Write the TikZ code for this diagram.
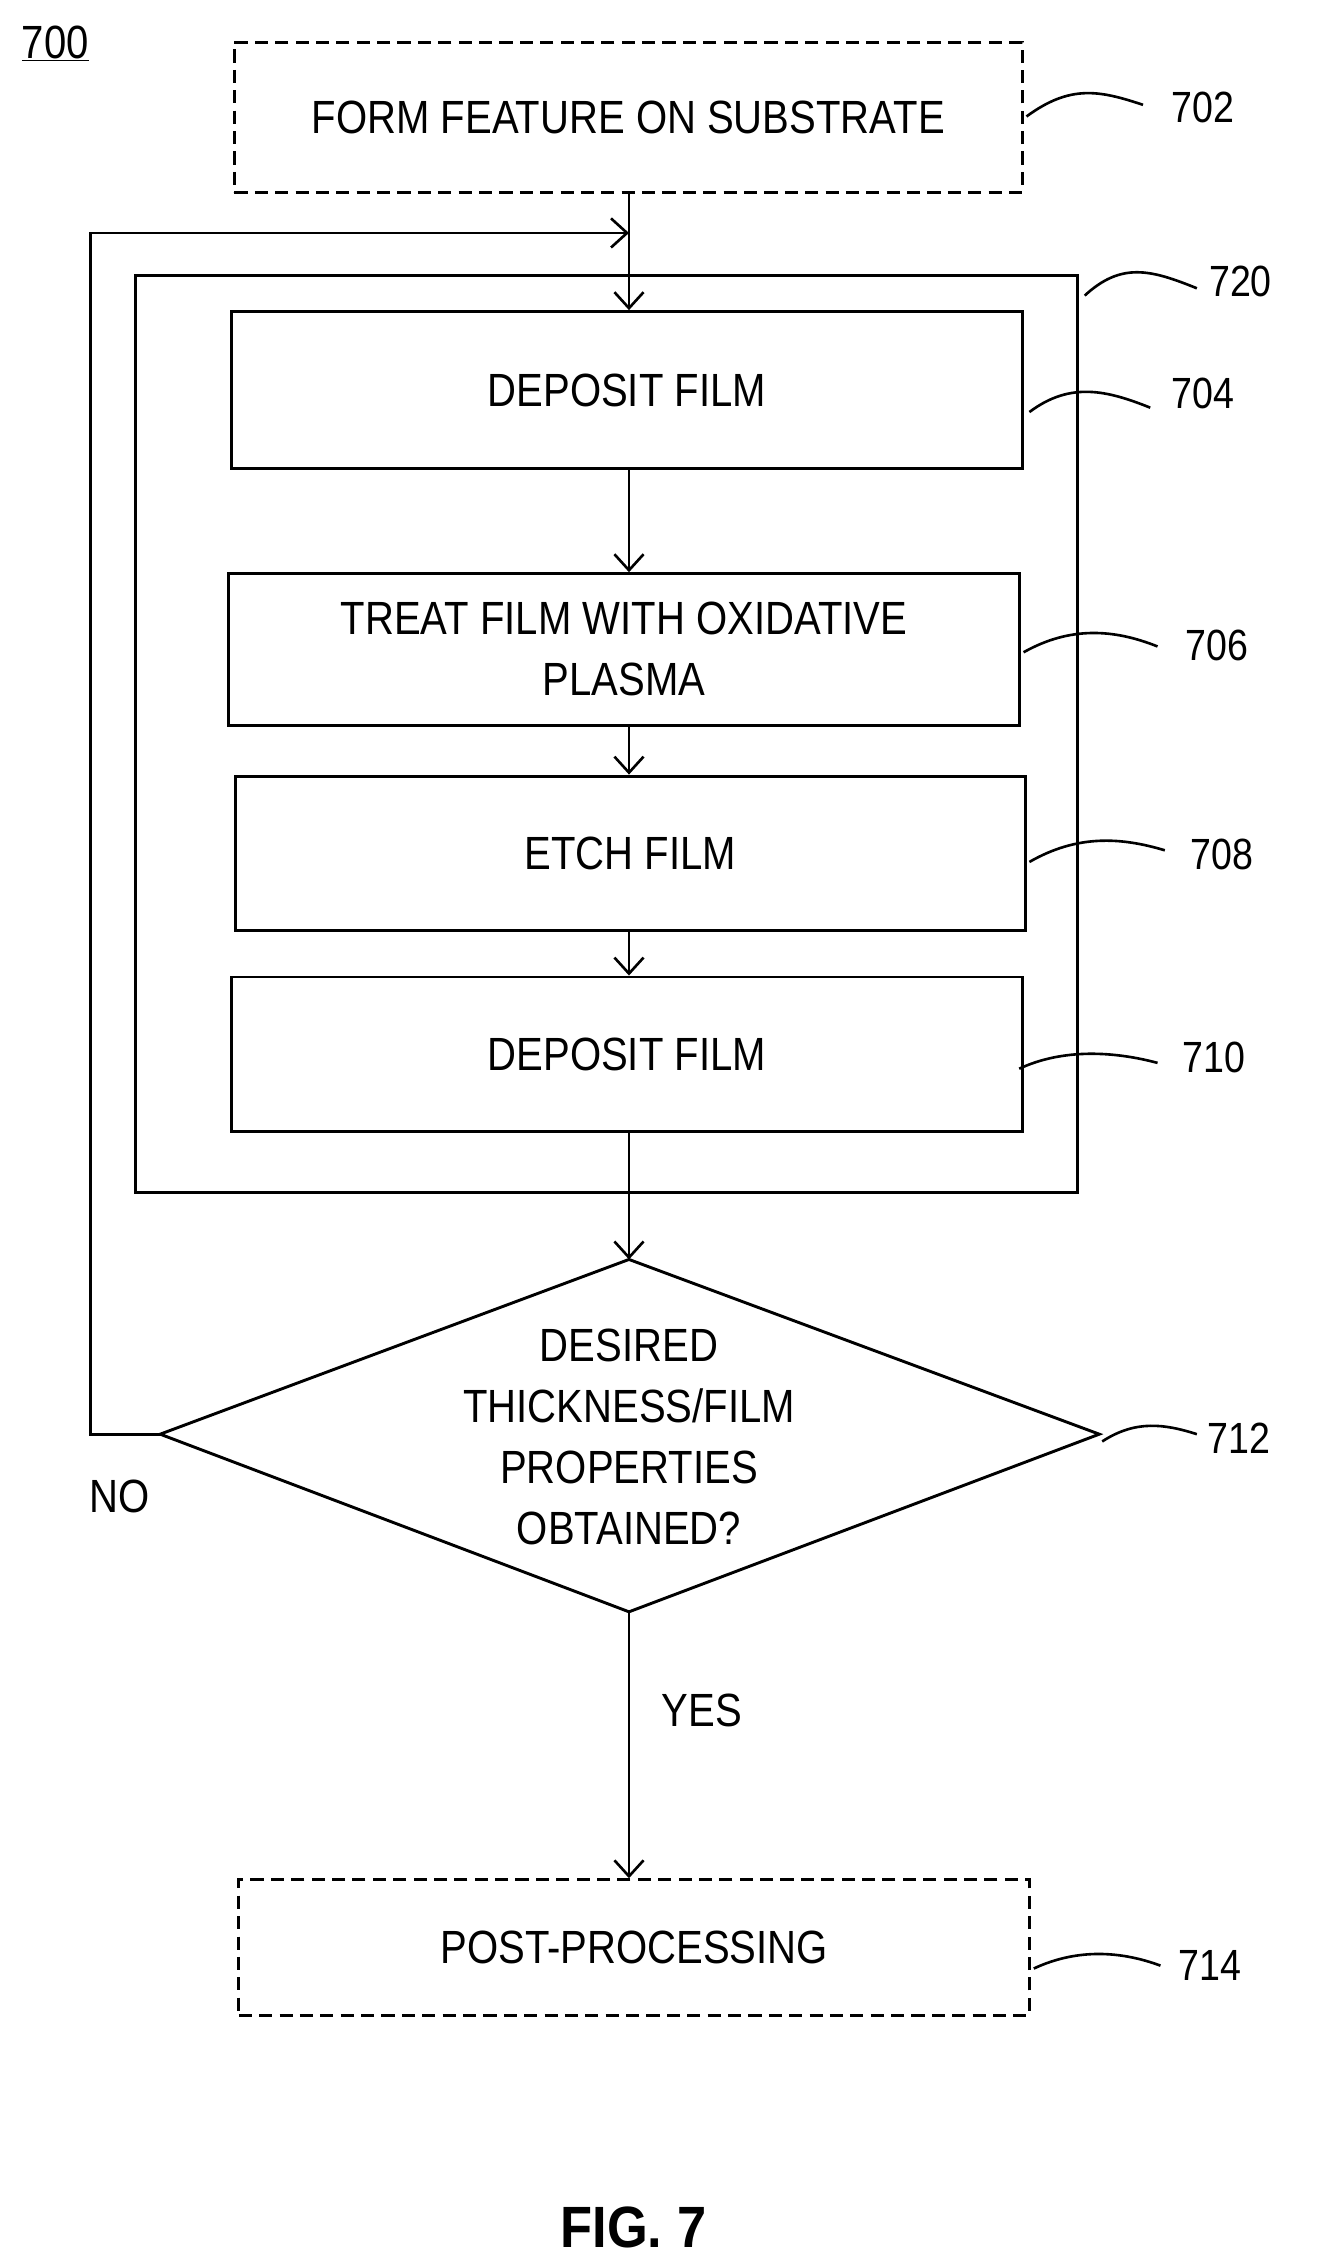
\documentclass[tikz,border=0pt]{standalone}
\usepackage{fontspec}
\setmainfont{Liberation Sans}[FakeStretch=0.86]
\newfontfamily\figfont{Liberation Sans}[FakeStretch=0.9]
\usetikzlibrary{arrows.meta,shapes.geometric}
\begin{document}
\begin{tikzpicture}[x=1pt,y=-1pt,
  every node/.style={font=\fontsize{32}{40}\selectfont, inner sep=0pt},
  box/.style={draw, line width=2pt, minimum width=543pt, minimum height=108pt, align=center},
  dbox/.style={box, dash pattern=on 9pt off 5pt},
  lbl/.style={font=\fontsize{30}{36}\selectfont},
  arr/.style={line width=1.8pt, -{Straight Barb[length=11pt,width=20pt,line width=1.8pt]}},
  lead/.style={line width=1.8pt}]
\useasboundingbox (0,0) rectangle (910,1557);
\node[lbl, font=\fontsize{32}{36}\selectfont] (n700) at (38,30) {\underline{700}};
\node[dbox, minimum width=541pt, minimum height=103pt] (b702) at (431.5,80.5) {FORM FEATURE ON SUBSTRATE};
\node[draw, line width=2pt, minimum width=647pt, minimum height=630pt] (b720) at (416.5,504) {};
\node[box, minimum height=108pt] (b704) at (430.5,268) {DEPOSIT FILM};
\node[box, minimum height=104pt] (b706) at (428.5,446) {TREAT FILM WITH OXIDATIVE\\[2pt]PLASMA};
\node[box, minimum height=106pt] (b708) at (433,586) {ETCH FILM};
\node[box, minimum height=106pt] (b710) at (430.5,724) {DEPOSIT FILM};
\coordinate (dt) at (432,865);
\coordinate (dl) at (110,985);
\coordinate (dr) at (755,985);
\coordinate (db) at (432,1107);
\draw[line width=2pt] (dt) -- (dr) -- (db) -- (dl) -- cycle;
\node[align=center, font=\fontsize{32}{42}\selectfont] (t712) at (432,987) {DESIRED\\THICKNESS/FILM\\PROPERTIES\\OBTAINED?};
\node[dbox, minimum width=543pt, minimum height=93pt] (b714) at (435.5,1337.5) {POST-PROCESSING};
\coordinate (loopin) at (432,160);
\coordinate (c1) at (62,160);
\coordinate (c2) at (62,985);
\draw[arr] (b702.south -| dt) -- (b704.north -| dt);
\draw[line width=2pt] (dl) -- (c2) -- (c1) -- (loopin);
\draw[arr] (c1) -- (loopin);
\draw[arr] (b704.south -| dt) -- (b706.north -| dt);
\draw[arr] (b706.south -| dt) -- (b708.north -| dt);
\draw[arr] (b708.south -| dt) -- (b710.north -| dt);
\draw[arr] (b710.south -| dt) -- (dt);
\draw[arr] (db) -- (b714.north -| db);
\node (no) at (82,1028) {NO};
\node (yes) at (482,1175) {YES};
% labels
\node[lbl] (l702) at (826,74) {702};
\node[lbl] (l720) at (852,193) {720};
\node[lbl] (l704) at (826,270) {704};
\node[lbl] (l706) at (836,443) {706};
\node[lbl] (l708) at (839,587) {708};
\node[lbl] (l710) at (834,726) {710};
\node[lbl] (l712) at (851,988) {712};
\node[lbl] (l714) at (831,1350) {714};
\draw[lead] (705,80) .. controls (735,58) and (755,62) .. (785,72);
\draw[lead] (745,203) .. controls (770,180) and (790,185) .. (822,198);
\draw[lead] (707,283) .. controls (735,262) and (760,268) .. (790,280);
\draw[lead] (703,448) .. controls (735,430) and (765,432) .. (795,444);
\draw[lead] (707,592) .. controls (740,573) and (770,575) .. (800,584);
\draw[lead] (700,734) .. controls (730,720) and (765,722) .. (795,730);
\draw[lead] (757,990) .. controls (780,975) and (800,978) .. (822,985);
\draw[lead] (710,1352) .. controls (740,1338) and (770,1340) .. (797,1350);
\node[font=\figfont\bfseries\fontsize{40}{48}\selectfont] (fig) at (435,1530) {FIG. 7};
\end{tikzpicture}
\end{document}
